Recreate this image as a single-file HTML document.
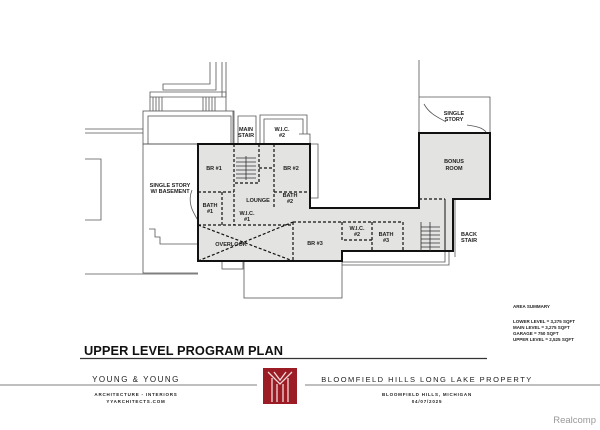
<!DOCTYPE html>
<html><head><style>
html,body{margin:0;padding:0;background:#fff;}
svg{display:block}
text{font-family:"Liberation Sans",sans-serif;}
</style></head><body>
<svg width="600" height="430" viewBox="0 0 600 430" xmlns="http://www.w3.org/2000/svg">
<rect width="600" height="430" fill="#fff"/>
<g stroke="#555" stroke-width="0.8" fill="none">
<path d="M85,129 H143 M85,133 H143"/>
<path d="M85,159 H101 V220 H85"/>
<path d="M85,274 H198"/>
<rect x="143" y="111" width="91" height="33"/>
<rect x="148" y="116" width="83" height="28"/>
<path d="M150,111 V92 H226 V111"/>
<path d="M150,97 H226"/>
<path d="M153,97V111 M156,97V111 M159,97V111 M162,97V111 M203,97V111 M206,97V111 M209,97V111 M212,97V111 M215,97V111"/>
<path d="M210,62 V84 H163 V90 H216 V62 M222,62 V97 M226,62 V97"/>
<path d="M143,144 V273 H198 M143,144 H198 M149,229 H155 V237 H160 V244 H198"/>
<path d="M260,144 V115 H307 V134 M264,144 V119 H303 V134 M299,134 H310 V144"/>
<path d="M233,144 V111 M238,144 V116 H256 V144"/>
<path d="M310,144 H318 V198 H310"/>
<path d="M419,60 V133 M419,97 H490 V133"/>
<path d="M445,199 V262 H342 M449,199 V265 H342 M455,199 V257"/>
<rect x="244" y="261" width="98" height="37"/>
<rect x="222" y="261" width="21" height="8"/>
<path d="M197,145 C208,160 210,175 213,185 M205,232 C195,215 186,205 192,190" />
<path d="M424,104 C430,115 440,118 446,122 M467,125 C474,126 482,127 486,132"/>
</g>
<path d="M198,144 H310 V208 H419 V133 H490 V199 H453 V251 H342 V261 H198 Z" fill="#e3e3e1" stroke="#111" stroke-width="2"/>
<path d="M445,199 V251" stroke="#111" stroke-width="1"/>
<g stroke="#111" stroke-width="1.2" fill="none" stroke-dasharray="3,2">
<path d="M234,144 V225 M259,144 V183 H234 M274,144 V208"/>
<path d="M198,192 H234 M274,192 H310 M222,192 V225 M198,225 H293"/>
<path d="M293,222 V261 M293,222 H403 V252 M342,222 V240 H372 M372,222 V252"/>
<path d="M419,199 H445"/>
<path d="M198,225 L293,261 M198,261 L293,222"/>
<path d="M259,168 H274"/>
</g>
<g stroke="#333" stroke-width="0.8" fill="none">
<path d="M236,158 H256 M236,162 H256 M236,166 H256 M236,170 H256 M236,174 H256 M236,178 H256 M246,156 V180"/>
<path d="M421,227 H440 M421,231 H440 M421,235 H440 M421,239 H440 M421,243 H440 M421,247 H440 M430,222 V251 M421,222 V251"/>
</g>
<g font-size="5.5" fill="#222" text-anchor="middle" font-weight="bold">
<text x="246" y="131">MAIN</text><text x="246" y="137">STAIR</text>
<text x="282" y="131">W.I.C.</text><text x="282" y="137">#2</text>
<text x="214" y="170">BR #1</text>
<text x="291" y="170">BR #2</text>
<text x="170" y="187">SINGLE STORY</text><text x="170" y="193">W/ BASEMENT</text>
<text x="258" y="202">LOUNGE</text>
<text x="290" y="197">BATH</text><text x="290" y="203">#2</text>
<text x="210" y="207">BATH</text><text x="210" y="213">#1</text>
<text x="247" y="215">W.I.C.</text><text x="247" y="221">#1</text>
<text x="231" y="246">OVERLOOK</text>
<text x="315" y="245">BR #3</text>
<text x="357" y="230">W.I.C.</text><text x="357" y="236">#2</text>
<text x="386" y="236">BATH</text><text x="386" y="242">#3</text>
<text x="454" y="115">SINGLE</text><text x="454" y="121">STORY</text>
<text x="454" y="163">BONUS</text><text x="454" y="170">ROOM</text>
<text x="469" y="236">BACK</text><text x="469" y="242">STAIR</text>
</g>
<g font-size="4.5" fill="#222" font-weight="bold">
<text x="513" y="308">AREA SUMMARY</text>
<text x="513" y="323">LOWER LEVEL = 3,275 SQFT</text>
<text x="513" y="329">MAIN LEVEL  = 3,275 SQFT</text>
<text x="513" y="335">GARAGE   = 750 SQFT</text>
<text x="513" y="341">UPPER LEVEL = 2,525 SQFT</text>
</g>
<text x="84" y="355" font-size="12.8" font-weight="bold" fill="#111" textLength="199">UPPER LEVEL PROGRAM PLAN</text>
<line x1="80" y1="358.5" x2="487" y2="358.5" stroke="#333" stroke-width="1.2"/>
<line x1="0" y1="385" x2="257" y2="385" stroke="#555" stroke-width="0.8"/>
<line x1="305" y1="385" x2="600" y2="385" stroke="#555" stroke-width="0.8"/>
<rect x="263" y="368" width="34" height="36" fill="#9b1c24"/>
<path d="M268,372 L280,384 L292,372 M274,372 L280,380 L286,372 M277,384 V402 M283,384 V402 M272,402 V378 M288,402 V378" stroke="#f2dada" stroke-width="1.3" fill="none"/>
<g text-anchor="middle" fill="#222">
<text x="136" y="382" font-size="8" letter-spacing="1.5">YOUNG &amp; YOUNG</text>
<text x="136" y="396" font-size="4.5" letter-spacing="0.8" font-weight="bold">ARCHITECTURE - INTERIORS</text>
<text x="136" y="403" font-size="4.5" letter-spacing="0.8" font-weight="bold">YYARCHITECTS.COM</text>
<text x="427" y="382" font-size="7.5" letter-spacing="1.5">BLOOMFIELD HILLS LONG LAKE PROPERTY</text>
<text x="427" y="396" font-size="4.5" letter-spacing="0.8" font-weight="bold">BLOOMFIELD HILLS, MICHIGAN</text>
<text x="427" y="403" font-size="4.5" letter-spacing="0.8" font-weight="bold">04/07/2025</text>
</g>
<text x="596" y="423" font-size="9.5" fill="#999" text-anchor="end">Realcomp</text>
</svg>
</body></html>
